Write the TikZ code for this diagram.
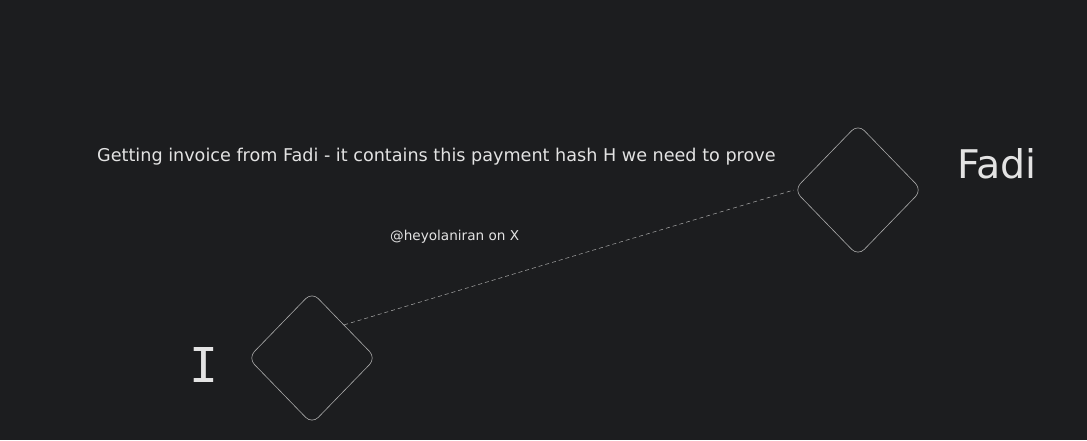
\documentclass[tikz,border=0pt]{standalone}
\usepackage{fontspec}
\setmainfont{DejaVu Sans}
\newfontfamily\barfont{DejaVu Sans Mono}
\usetikzlibrary{shapes.geometric}
\definecolor{canvas}{HTML}{1C1D1F}
\definecolor{ink}{HTML}{E3E3E3}
\definecolor{stroke}{HTML}{ABABAB}
\tikzset{party node/.style={diamond,draw=stroke,line width=0.6pt,rounded corners=9pt,inner sep=0pt,minimum width=128pt,minimum height=132pt}}
\tikzset{dashed link/.style={draw=stroke,line width=0.5pt,dash pattern=on 4pt off 3pt}}
\tikzset{note text/.style={text=ink,inner sep=0pt,anchor=base west}}

\begin{document}
\begin{tikzpicture}[x=1pt,y=-1pt]

\fill[canvas] (0,0) rectangle (1087,440);
\useasboundingbox (0,0) rectangle (1087,440);

\node[party node] (I) at (312,358) {};
\node[party node] (Fadi) at (858,190) {};
\draw[dashed link] (I.north east) -- (Fadi.west);

\node[note text,font=\fontsize{17.6}{20}\selectfont] (invoice) at (97,161)
    {Getting invoice from Fadi - it contains this payment hash H we need to prove};
\node[note text,font=\fontsize{13.6}{15}\selectfont] (handle) at (390,240) {@heyolaniran on X};
\node[note text,font=\fontsize{39.5}{44}\selectfont] (fadi label) at (957,178) {Fadi};
\node[note text,font=\barfont\fontsize{48}{52}\selectfont] (me label) at (189,382) {I};

\end{tikzpicture}
\end{document}
